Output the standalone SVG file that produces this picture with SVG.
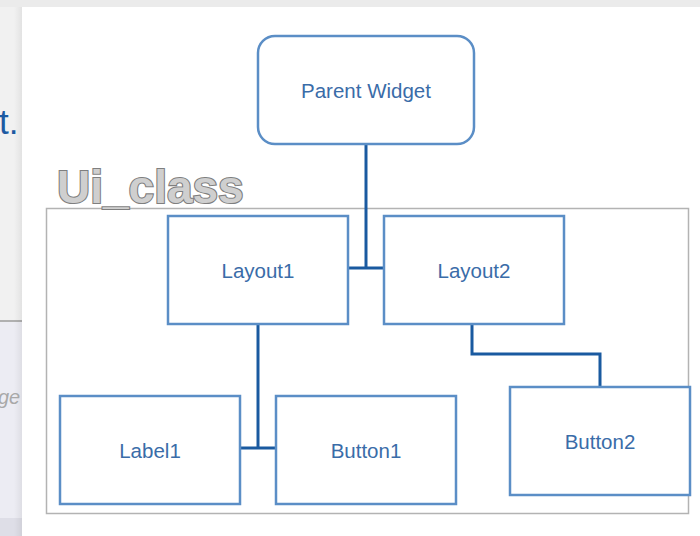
<svg xmlns="http://www.w3.org/2000/svg" width="700" height="536" viewBox="0 0 700 536">
  <defs>
    <linearGradient id="edgeShade" x1="0" y1="0" x2="1" y2="0">
      <stop offset="0" stop-color="#000" stop-opacity="0"/>
      <stop offset="1" stop-color="#000" stop-opacity="0.06"/>
    </linearGradient>
    <style>
      .box { fill: #ffffff; stroke: #5b8ec6; stroke-width: 2.5; }
      .lbl { font-family: "Liberation Sans", Arial, sans-serif; font-size: 20.5px; fill: #3a6ca8; text-anchor: middle; }
      .wire { fill: none; stroke: #1a5aa0; stroke-width: 3; stroke-linejoin: miter; }
    </style>
  </defs>

  <!-- page background behind the drawing panel -->
  <rect x="0" y="0" width="700" height="536" fill="#f1f1f1"/>
  <rect x="0" y="0" width="700" height="7" fill="#ebebeb"/>
  <rect x="0" y="322" width="22" height="214" fill="#ececf3"/>
  <rect x="0" y="518" width="22" height="18" fill="#dedee7"/>
  <line x1="0" y1="321" x2="22" y2="321" stroke="#9a9a9a" stroke-width="1.5"/>
  <rect x="14" y="7" width="8" height="529" fill="url(#edgeShade)"/>
  <text x="-1" y="134" font-family="Liberation Sans, Arial, sans-serif" font-size="35" fill="#1c5aa2">t.</text>
  <text x="-2" y="404" font-family="Liberation Sans, Arial, sans-serif" font-size="20" font-style="italic" fill="#a8a8a8">ge</text>

  <!-- drawing panel -->
  <rect x="22" y="7" width="678" height="529" fill="#ffffff"/>

  <!-- Ui_class container -->
  <g id="ui_class">
    <rect x="46.5" y="208.5" width="642" height="305" fill="none" stroke="#b3b3b3" stroke-width="1.5"/>
    <text x="57" y="203" font-family="Liberation Sans, Arial, sans-serif" font-size="46" font-weight="bold" fill="#cfcfcf" stroke="#7f7f7f" stroke-width="2.2" paint-order="stroke">Ui_class</text>
  </g>

  <!-- connectors -->
  <g id="connectors" class="wire">
    <path d="M366 144 V268"/>
    <path d="M348 268 H384"/>
    <path d="M258 324 V448"/>
    <path d="M240 448 H276"/>
    <path d="M472 324 V354 H600 V387"/>
  </g>

  <g id="parent_widget">
    <rect class="box" x="258" y="36" width="216" height="108" rx="17" ry="17"/>
    <text class="lbl" x="366" y="98">Parent Widget</text>
  </g>
  <g id="layout1">
    <rect class="box" x="168" y="216" width="180" height="108"/>
    <text class="lbl" x="258" y="278">Layout1</text>
  </g>
  <g id="layout2">
    <rect class="box" x="384" y="216" width="180" height="108"/>
    <text class="lbl" x="474" y="278">Layout2</text>
  </g>
  <g id="label1">
    <rect class="box" x="60" y="396" width="180" height="108"/>
    <text class="lbl" x="150" y="458">Label1</text>
  </g>
  <g id="button1">
    <rect class="box" x="276" y="396" width="180" height="108"/>
    <text class="lbl" x="366" y="458">Button1</text>
  </g>
  <g id="button2">
    <rect class="box" x="510" y="387" width="180" height="108"/>
    <text class="lbl" x="600" y="449">Button2</text>
  </g>
</svg>
